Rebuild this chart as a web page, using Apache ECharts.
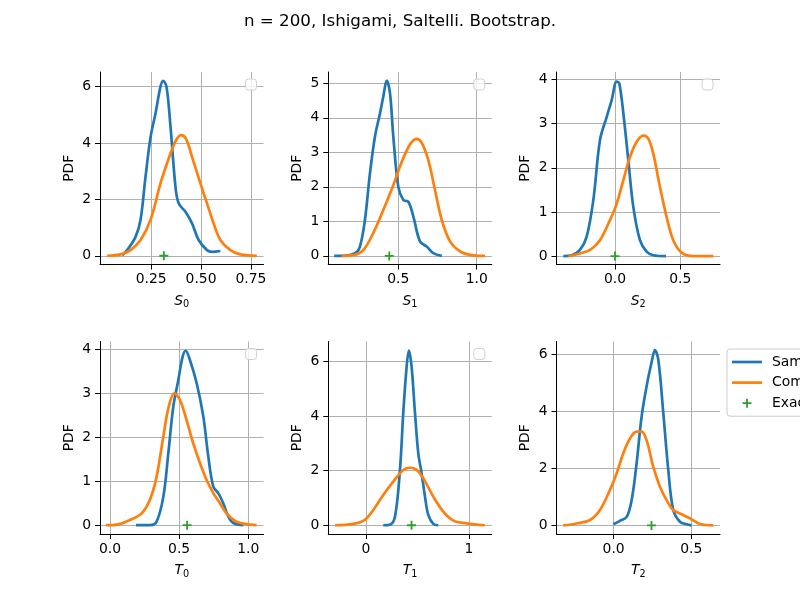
<!DOCTYPE html>
<html><head><meta charset="utf-8">
<script src="https://cdn.jsdelivr.net/npm/echarts@6/dist/echarts.min.js"></script>
<style>html,body{margin:0;padding:0;background:#fff}#c{width:800px;height:600px}</style>
</head><body><div id="c"></div>
<script>
const titleText = 'n = 200, Ishigami, Saltelli. Bootstrap.';
const legendNames = ['Sample', 'Computed', 'Exact'];
const axisLetters = ['S', 'S', 'S', 'T', 'T', 'T'];
const axisSubs = ['0', '1', '2', '0', '1', '2'];

// Bootstrap KDE ("Sample") and computed distribution ("Computed"), [x, pdf]
const s0Sample = [[0.105,0.02],[0.13,0.2],[0.172,0.67],[0.197,1.27],[0.222,2.8],[0.247,4.2],[0.272,5.05],[0.297,6.0],[0.31,6.21],[0.327,6.0],[0.347,4.6],[0.372,2.45],[0.388,1.86],[0.422,1.56],[0.455,1.15],[0.488,0.56],[0.53,0.2],[0.555,0.14],[0.597,0.17]];
const s0Computed = [[0.03,0],[0.097,0.05],[0.147,0.2],[0.197,0.56],[0.247,1.27],[0.297,2.57],[0.347,3.63],[0.375,4.1],[0.4,4.28],[0.425,4.15],[0.455,3.51],[0.497,2.57],[0.53,1.86],[0.563,1.15],[0.597,0.56],[0.647,0.2],[0.697,0.05],[0.78,0]];
const s1Sample = [[0.091,0],[0.128,0],[0.223,0.08],[0.255,0.27],[0.287,1.04],[0.319,2.39],[0.351,3.46],[0.383,4.13],[0.404,4.61],[0.426,5.08],[0.447,4.71],[0.468,3.46],[0.5,2.0],[0.532,1.62],[0.564,1.57],[0.596,1.14],[0.638,0.42],[0.681,0.27],[0.723,0.08],[0.777,0]];
const s1Computed = [[0.138,0],[0.213,0.02],[0.277,0.17],[0.34,0.66],[0.404,1.33],[0.468,2.05],[0.511,2.6],[0.553,3.05],[0.585,3.3],[0.615,3.39],[0.649,3.28],[0.691,2.78],[0.734,1.91],[0.777,1.04],[0.83,0.42],[0.894,0.13],[0.957,0.03],[1.053,0]];
const s2Sample = [[-0.395,0],[-0.332,0.02],[-0.268,0.14],[-0.217,0.44],[-0.166,1.27],[-0.115,2.63],[-0.064,3.15],[-0.026,3.53],[0.013,3.95],[0.033,3.91],[0.064,3.23],[0.102,2.17],[0.14,1.12],[0.191,0.36],[0.242,0.1],[0.293,0.02],[0.39,0]];
const s2Computed = [[-0.357,0],[-0.268,0.06],[-0.191,0.14],[-0.115,0.36],[-0.038,0.82],[0.013,1.19],[0.064,1.72],[0.115,2.25],[0.166,2.59],[0.217,2.73],[0.255,2.66],[0.293,2.32],[0.344,1.57],[0.395,0.89],[0.446,0.36],[0.51,0.08],[0.6,0],[0.753,0]];
const t0Sample = [[0.188,0],[0.289,0],[0.337,0.08],[0.386,0.65],[0.422,1.64],[0.458,2.7],[0.494,3.3],[0.525,3.83],[0.547,3.97],[0.578,3.76],[0.627,3.23],[0.675,2.47],[0.711,1.56],[0.747,0.88],[0.783,0.73],[0.819,0.5],[0.855,0.2],[0.892,0.05],[0.964,0]];
const t0Computed = [[-0.029,0],[0.06,0.02],[0.145,0.12],[0.229,0.27],[0.289,0.58],[0.337,1.1],[0.386,2.02],[0.422,2.66],[0.465,3.0],[0.506,2.85],[0.554,2.39],[0.602,1.86],[0.651,1.41],[0.699,1.03],[0.747,0.73],[0.795,0.5],[0.843,0.27],[0.916,0.08],[1.06,0]];
const t1Sample = [[0.168,0],[0.233,0.02],[0.282,0.32],[0.33,2.03],[0.362,4.11],[0.395,5.82],[0.417,6.41],[0.443,5.82],[0.476,4.11],[0.508,2.64],[0.54,1.91],[0.573,1.05],[0.605,0.38],[0.654,0.05],[0.702,0]];
const t1Computed = [[-0.301,0],[-0.123,0.05],[-0.01,0.2],[0.071,0.56],[0.168,1.11],[0.265,1.6],[0.362,2.03],[0.427,2.11],[0.492,2.03],[0.557,1.72],[0.654,1.05],[0.751,0.5],[0.848,0.17],[0.977,0.07],[1.155,0]];
const t2Sample = [[-0.002,0.04],[0.041,0.16],[0.084,0.3],[0.116,0.89],[0.148,2.18],[0.18,3.81],[0.212,4.87],[0.245,5.74],[0.266,6.15],[0.288,5.8],[0.32,3.93],[0.352,1.94],[0.384,0.54],[0.427,0.13],[0.47,0.04],[0.502,0]];
const t2Computed = [[-0.324,0],[-0.238,0.07],[-0.152,0.19],[-0.088,0.54],[-0.024,1.24],[0.019,1.82],[0.062,2.53],[0.105,3.05],[0.148,3.29],[0.18,3.29],[0.212,2.99],[0.255,2.06],[0.298,1.36],[0.341,0.89],[0.384,0.54],[0.438,0.39],[0.491,0.25],[0.556,0.05],[0.642,0]];
const exactValues = [0.3139, 0.4424, 0.0, 0.5576, 0.4424, 0.2437];

// tick values
const xTicks0 = [0.25, 0.5, 0.75];
const xTicks1 = [0.5, 1.0];
const xTicks2 = [0.0, 0.5];
const xTicks3 = [0.0, 0.5, 1.0];
const xTicks4 = [0, 1];
const xTicks5 = [0.0, 0.5];
const yTicks0 = [0, 2, 4, 6];
const yTicks1 = [0, 1, 2, 3, 4, 5];
const yTicks2 = [0, 1, 2, 3, 4];
const yTicks3 = [0, 1, 2, 3, 4];
const yTicks4 = [0, 2, 4, 6];
const yTicks5 = [0, 2, 4, 6];
const xDecimals = [2, 1, 1, 1, 0, 1];

const sampleSets = [s0Sample, s1Sample, s2Sample, t0Sample, t1Sample, t2Sample];
const computedSets = [s0Computed, s1Computed, s2Computed, t0Computed, t1Computed, t2Computed];
const xTickSets = [xTicks0, xTicks1, xTicks2, xTicks3, xTicks4, xTicks5];
const yTickSets = [yTicks0, yTicks1, yTicks2, yTicks3, yTicks4, yTicks5];

// layout (axis view ranges, like matplotlib autoscale)
const xRanges = [[-0.006,0.813],[0.053,1.096],[-0.448,0.804],[-0.072,1.11],[-0.366,1.221],[-0.368,0.685]];
const yRanges = [[-0.31,6.52],[-0.25,5.33],[-0.19,4.17],[-0.2,4.18],[-0.32,6.74],[-0.3,6.45]];
const colLefts = [100, 328.25, 556.5];
const rowTops = [72, 341.5];
const gridW = 163.5, gridH = 192.5;

const FONT = 'DejaVu Sans';
const FS = 13.9;
const LW = 2.7;
const plusPath = 'path://M4,0H6V4H10V6H6V10H4V6H0V4H4Z';
const linePath = 'path://M0,0H30V2.7H0Z';

const grids = [], xAxes = [], yAxes = [], series = [], graphics = [];
for (let i = 0; i < 6; i++) {
  const left = colLefts[i % 3], top = rowTops[Math.floor(i / 3)];
  grids.push({left: left, top: top, width: gridW, height: gridH, containLabel: false});
  const dec = xDecimals[i];
  xAxes.push({
    type: 'value', gridIndex: i, min: xRanges[i][0], max: xRanges[i][1],
    axisLine: {show: true, onZero: false, lineStyle: {color: '#000', width: 1}},
    axisTick: {show: true, customValues: xTickSets[i], length: 5, lineStyle: {color: '#000', width: 1}},
    axisLabel: {customValues: xTickSets[i], formatter: v => Number(v).toFixed(dec), margin: 8, color: '#000', fontSize: FS, fontFamily: FONT},
    splitLine: {show: true, lineStyle: {color: '#b0b0b0', width: 1}},
    name: '{i|' + axisLetters[i] + '}{s|' + axisSubs[i] + '}', nameLocation: 'middle', nameGap: 28,
    nameTextStyle: {color: '#000', rich: {
      i: {fontStyle: 'italic', fontSize: FS, fontFamily: FONT, color: '#000'},
      s: {fontSize: 9.7, fontFamily: FONT, color: '#000', padding: [7, 0, 0, 0]}
    }}
  });
  yAxes.push({
    type: 'value', gridIndex: i, min: yRanges[i][0], max: yRanges[i][1],
    axisLine: {show: true, onZero: false, lineStyle: {color: '#000', width: 1}},
    axisTick: {show: true, customValues: yTickSets[i], length: 5, lineStyle: {color: '#000', width: 1}},
    axisLabel: {customValues: yTickSets[i], formatter: v => String(Math.round(v)), margin: 9, color: '#000', fontSize: FS, fontFamily: FONT},
    splitLine: {show: true, lineStyle: {color: '#b0b0b0', width: 1}},
    name: 'PDF', nameLocation: 'middle', nameGap: 24, nameRotate: 90,
    nameTextStyle: {color: '#000', fontSize: FS, fontFamily: FONT}
  });
  series.push({
    name: legendNames[0], type: 'line', xAxisIndex: i, yAxisIndex: i, data: sampleSets[i],
    symbol: 'none', showSymbol: false, smooth: 0.35, lineStyle: {color: '#1f77b4', width: LW}, itemStyle: {color: '#1f77b4'}, z: 3
  });
  series.push({
    name: legendNames[1], type: 'line', xAxisIndex: i, yAxisIndex: i, data: computedSets[i],
    symbol: 'none', showSymbol: false, smooth: 0.35, lineStyle: {color: '#ff7f0e', width: LW}, itemStyle: {color: '#ff7f0e'}, z: 4
  });
  series.push({
    name: legendNames[2], type: 'scatter', xAxisIndex: i, yAxisIndex: i, data: [[exactValues[i], 0]],
    symbol: plusPath, symbolSize: 9, itemStyle: {color: '#2ca02c', opacity: 1}, z: 5
  });
  if (i < 5) {
    graphics.push({
      type: 'rect', z: 10,
      shape: {x: left + gridW - 7 - 11, y: top + 7, width: 11, height: 11, r: 3},
      style: {fill: 'rgba(255,255,255,0.8)', stroke: '#d0d0d0', lineWidth: 1}
    });
  }
}

const chart = echarts.init(document.getElementById('c'), null, {renderer: 'canvas'});
chart.setOption({
  animation: false,
  backgroundColor: '#fff',
  title: {text: titleText, left: 'center', top: 8, textStyle: {fontSize: 16.7, fontWeight: 'normal', color: '#000', fontFamily: FONT}},
  legend: {
    data: [
      {name: legendNames[0], icon: linePath},
      {name: legendNames[1], icon: linePath},
      {name: legendNames[2], icon: plusPath}
    ],
    orient: 'vertical', left: 727, top: 349,
    itemWidth: 30, itemHeight: 9, itemGap: 6.6, selectedMode: false,
    padding: [6, 5, 6, 5], borderColor: '#cccccc', borderWidth: 1, borderRadius: 3,
    backgroundColor: 'rgba(255,255,255,0.8)',
    itemStyle: {opacity: 1},
    textStyle: {fontSize: FS, fontFamily: FONT, color: '#000', padding: [0, 0, 0, 5]}
  },
  grid: grids, xAxis: xAxes, yAxis: yAxes, series: series, graphic: graphics
});
</script></body></html>
